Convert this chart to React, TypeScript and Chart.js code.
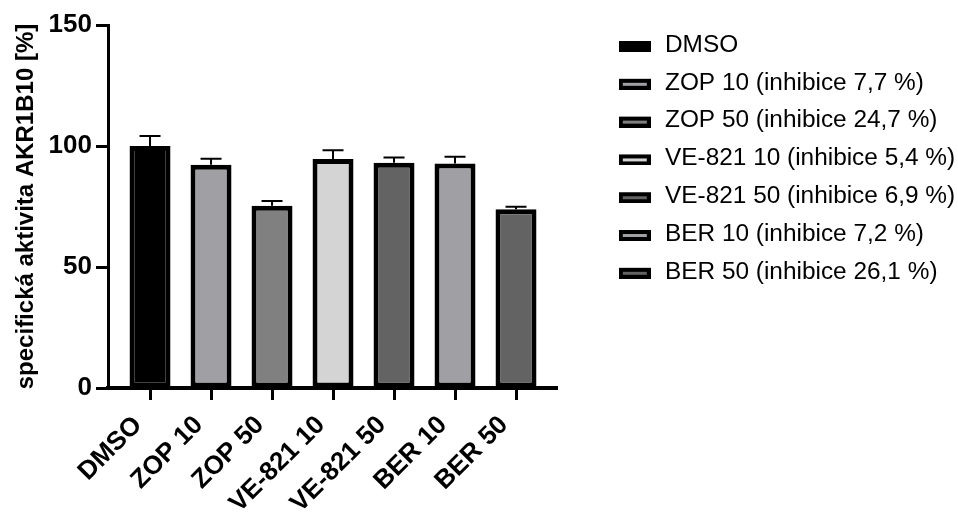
import React, { useEffect, useRef } from 'react';
import { Chart, registerables } from 'chart.js';

Chart.register(...registerables);

const categories = ['DMSO', 'ZOP 10', 'ZOP 50', 'VE-821 10', 'VE-821 50', 'BER 10', 'BER 50'];
const values = [100, 92.3, 75.3, 94.6, 93.1, 92.8, 73.9];
const errors = [4.1, 2.4, 2.0, 3.6, 2.1, 2.8, 1.0];
const legendLabels = [
  'DMSO',
  'ZOP 10 (inhibice 7,7 %)',
  'ZOP 50 (inhibice 24,7 %)',
  'VE-821 10 (inhibice 5,4 %)',
  'VE-821 50 (inhibice 6,9 %)',
  'BER 10 (inhibice 7,2 %)',
  'BER 50 (inhibice 26,1 %)',
];
const barColors = ['#000000', '#a0a0a4', '#808080', '#d4d4d4', '#636363', '#a0a0a4', '#636363'];
const yTitle = 'specifická aktivita AKR1B10 [%]';
const yMin = 0;
const yMax = 150;
const yStep = 50;

const FONT = "'Liberation Sans', Arial, sans-serif";

function makeLegendSwatch(color: string): HTMLCanvasElement {
  const c = document.createElement('canvas');
  c.width = 32;
  c.height = 14;
  const g = c.getContext('2d')!;
  g.fillStyle = '#000';
  g.fillRect(0, 3, 32, 11);
  g.fillStyle = color;
  g.fillRect(4, 7, 24, 3);
  return c;
}

const errorBarPlugin = {
  id: 'errorBars',
  beforeDatasetsDraw(chart: any) {
    const { ctx } = chart;
    const y = chart.scales.y;
    const meta = chart.getDatasetMeta(0);
    ctx.save();
    ctx.strokeStyle = '#000';
    ctx.lineWidth = 2;
    meta.data.forEach((bar: any, i: number) => {
      const x = bar.x;
      const yTop = y.getPixelForValue(values[i]);
      const yErr = y.getPixelForValue(values[i] + errors[i]);
      ctx.beginPath();
      ctx.moveTo(x, yTop);
      ctx.lineTo(x, yErr);
      ctx.moveTo(x - 10.5, yErr);
      ctx.lineTo(x + 10.5, yErr);
      ctx.stroke();
    });
    ctx.restore();
  },
};

export default function App() {
  const ref = useRef<HTMLCanvasElement | null>(null);

  useEffect(() => {
    if (!ref.current) return;
    const swatches = barColors.map((c) => makeLegendSwatch(c));
    const chart = new Chart(ref.current, {
      type: 'bar',
      data: {
        datasets: [
          {
            data: values.map((v, i) => ({ x: i, y: v })),
            backgroundColor: barColors,
            borderColor: '#000',
            borderWidth: 5,
            borderSkipped: false,
            barPercentage: 0.672,
            categoryPercentage: 1,
            xAxisID: 'x',
            yAxisID: 'y',
          } as any,
        ],
      },
      options: {
        responsive: true,
        maintainAspectRatio: false,
        animation: false,
        layout: { padding: { top: 19.4, left: 0, right: 0, bottom: 0 } },
        plugins: {
          tooltip: { enabled: false },
          legend: {
            display: true,
            position: 'right',
            align: 'start',
            maxWidth: 354.6,
            labels: {
              usePointStyle: true,
              pointStyleWidth: 36,
              padding: 13.4,
              color: '#000',
              font: { family: FONT, size: 24.4 },
              generateLabels: () =>
                legendLabels.map((t, i) => ({
                  text: t,
                  fillStyle: barColors[i],
                  strokeStyle: '#000',
                  lineWidth: 0,
                  pointStyle: swatches[i],
                  hidden: false,
                  datasetIndex: 0,
                  index: i,
                  fontColor: '#000',
                })),
            },
          },
        },
        scales: {
          x: {
            type: 'linear',
            position: 'bottom',
            min: -0.689,
            max: 6.672,
            offset: false,
            afterBuildTicks: (s: any) => {
              s.ticks = categories.map((_, i) => ({ value: i }));
            },
            afterFit: (s: any) => {
              s.height = 133;
            },
            grid: {
              display: true,
              offset: false,
              drawOnChartArea: false,
              drawTicks: true,
              tickLength: 12,
              tickWidth: 3,
              tickColor: '#000',
            },
            border: { display: true, color: '#000', width: 4 },
            ticks: {
              autoSkip: false,
              minRotation: 45,
              maxRotation: 45,
              padding: 10,
              labelOffset: -12,
              color: '#000',
              font: { family: FONT, size: 26, weight: 'bold' },
              callback: (v: any) => categories[Math.round(Number(v))] ?? '',
            },
          },
          xTop: {
            type: 'linear',
            position: 'top',
            display: true,
            grid: { display: false },
            border: { display: false },
            ticks: { display: false },
            afterFit: (s: any) => {
              s.height = 5.6;
            },
          },
          y: {
            type: 'linear',
            position: 'left',
            min: yMin,
            max: yMax,
            afterFit: (s: any) => {
              s.width = 108;
            },
            grid: {
              display: true,
              drawOnChartArea: false,
              drawTicks: true,
              tickLength: 12,
              tickWidth: 3,
              tickColor: '#000',
            },
            border: { display: true, color: '#000', width: 3 },
            ticks: {
              stepSize: yStep,
              padding: 4,
              color: '#000',
              font: { family: FONT, size: 26, weight: 'bold' },
            },
            title: {
              display: true,
              text: yTitle,
              color: '#000',
              padding: { top: 12, bottom: 0 },
              font: { family: FONT, size: 24, weight: 'bold' },
            },
          },
          yRight: {
            type: 'linear',
            position: 'right',
            display: true,
            grid: { display: false },
            border: { display: false },
            ticks: { display: false },
            afterFit: (s: any) => {
              s.width = 46.4;
            },
          },
        },
      } as any,
      plugins: [errorBarPlugin],
    });
    return () => chart.destroy();
  }, []);

  return (
    <div style={{ position: 'fixed', left: 0, top: 0, width: 958, height: 521, background: '#fff' }}>
      <canvas ref={ref} />
    </div>
  );
}
